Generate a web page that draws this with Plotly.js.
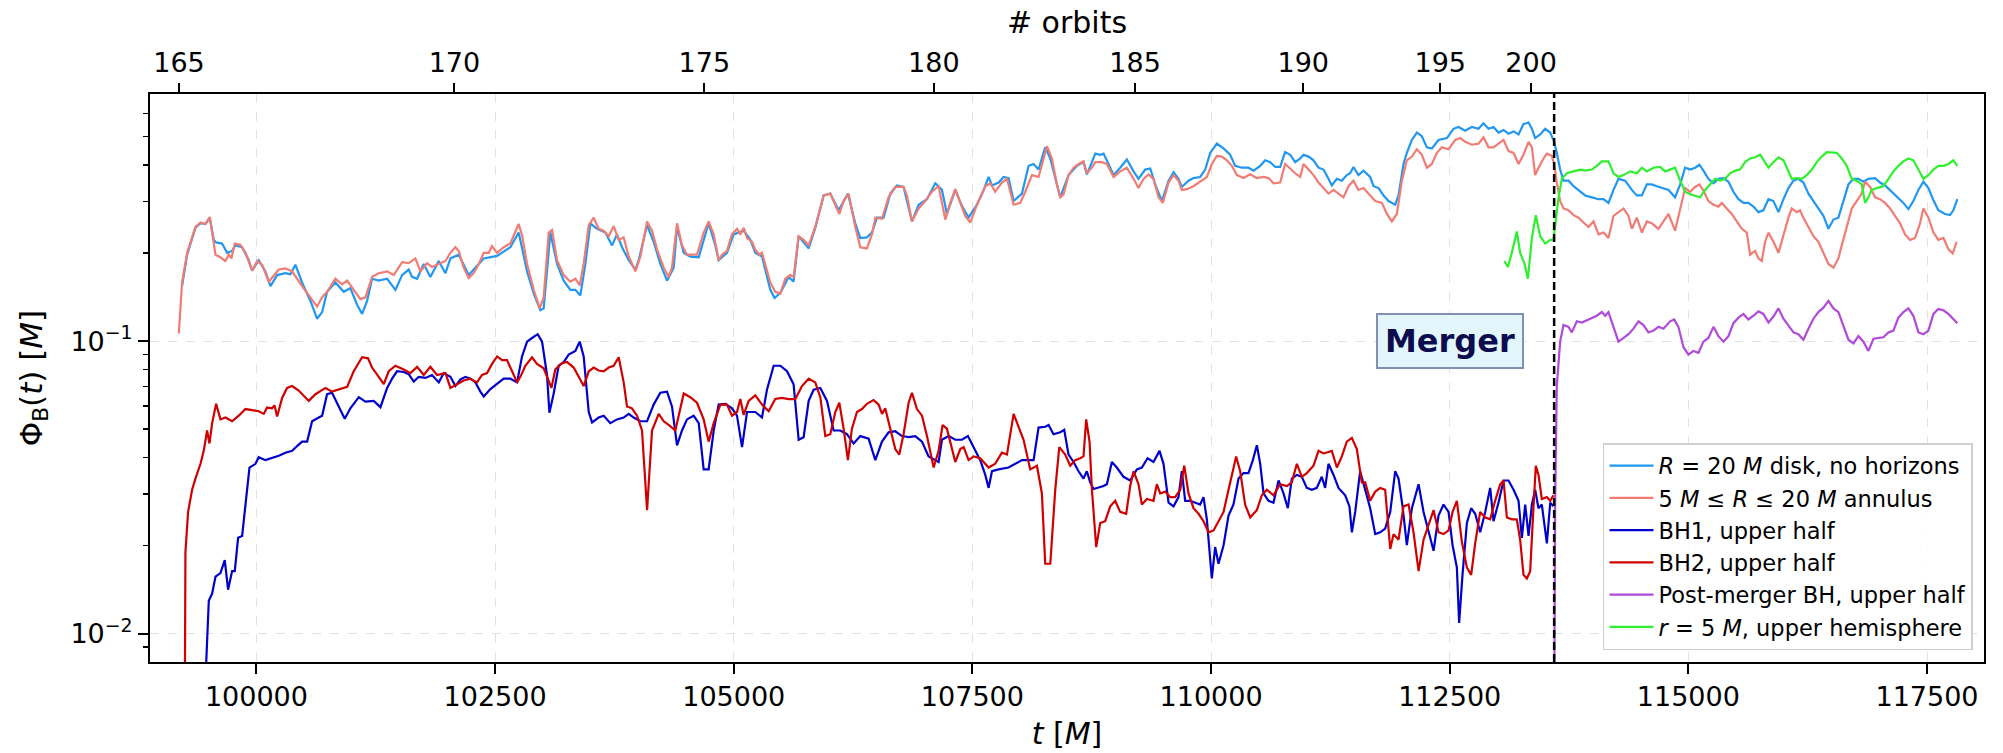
<!DOCTYPE html>
<html>
<head>
<meta charset="utf-8">
<script src="https://cdn.plot.ly/plotly-3.0.1.min.js"></script>
<style>html,body{margin:0;padding:0;background:#fff;}#chart{width:2003px;height:753px;}</style>
</head>
<body>
<div id="chart"></div>
<script>
// ---- data: [t (M), Phi_B (M)] ----
const diskNoHorizons = [[99221,0.1541],[99274,0.1975],[99361,0.2442],[99414,0.2529],[99466,0.2514],[99511,0.2643],[99553,0.2219],[99578,0.2175],[99640,0.2156],[99693,0.2004],[99745,0.2034],[99780,0.2125],[99850,0.2094],[99920,0.1890],[99955,0.1742],[100024,0.1890],[100094,0.1732],[100147,0.1541],[100216,0.1682],[100304,0.1707],[100356,0.1692],[100408,0.1825],[100478,0.1587],[100566,0.1372],[100635,0.1193],[100688,0.1257],[100740,0.1475],[100827,0.1587],[100915,0.1475],[100984,0.1519],[101054,0.1332],[101107,0.1239],[101159,0.1372],[101211,0.1634],[101281,0.1610],[101369,0.1634],[101456,0.1497],[101526,0.1682],[101595,0.1757],[101630,0.1658],[101683,0.1634],[101752,0.1836],[101822,0.1658],[101910,0.1879],[101980,0.1707],
[102032,0.1918],[102119,0.1975],[102224,0.1682],[102329,0.1836],[102381,0.1918],[102521,0.1957],[102660,0.2094],[102747,0.2351],[102835,0.1732],[102905,0.1454],[102974,0.1275],[103009,0.1294],[103079,0.2351],[103149,0.1836],[103219,0.1610],[103288,0.1497],[103341,0.1497],[103393,0.1433],[103446,0.1836],[103498,0.2529],[103568,0.2421],[103655,0.2351],[103725,0.2125],[103777,0.2317],[103830,0.2094],[103900,0.1890],[103970,0.1757],[104004,0.1890],[104092,0.2493],[104161,0.2187],[104231,0.1836],[104301,0.1610],[104371,0.1783],[104406,0.2457],[104475,0.2004],[104545,0.1946],[104633,0.1935],[104737,0.2529],[104807,0.2125],[104842,0.1890],[104929,0.2004],[104999,0.2317],[105052,0.2351],[105104,0.2386],[105174,0.2219],
[105226,0.2004],[105296,0.1946],[105383,0.1497],[105428,0.1404],[105488,0.1462],[105575,0.1658],[105627,0.1596],[105680,0.2284],[105785,0.2075],[105854,0.2440],[105942,0.3148],[106011,0.3194],[106099,0.2801],[106196,0.3194],[106273,0.2529],[106326,0.2252],[106395,0.2264],[106448,0.2351],[106500,0.2643],[106570,0.2643],[106640,0.3194],[106710,0.3406],[106779,0.3366],[106867,0.2566],[106937,0.2927],[107024,0.3057],[107111,0.3466],[107181,0.3289],[107233,0.2721],[107321,0.3289],[107390,0.2900],[107460,0.2643],[107548,0.2927],[107620,0.3300],[107670,0.3642],[107705,0.3406],[107775,0.3486],[107827,0.3642],[107879,0.3610],[107932,0.3013],[108019,0.3194],[108089,0.3975],[108141,0.4033],[108193,0.3860],[108263,0.4598],[108316,0.4213],[108385,0.3435],
[108420,0.3102],[108507,0.3695],[108595,0.3975],[108664,0.4093],[108699,0.3717],[108752,0.4093],[108787,0.4376],[108839,0.4338],[108874,0.4376],[108926,0.4033],[108979,0.3695],[109048,0.3917],[109118,0.4177],[109188,0.3805],[109240,0.3589],[109310,0.3860],[109363,0.3894],[109415,0.3435],[109485,0.3013],[109555,0.3537],[109607,0.3783],[109659,0.3589],[109694,0.3366],[109764,0.3537],[109816,0.3610],[109886,0.3642],[109939,0.3860],[109991,0.4402],[110061,0.4735],[110131,0.4558],[110200,0.4338],[110253,0.3975],[110323,0.3917],[110392,0.3917],[110445,0.3827],[110515,0.3975],[110567,0.4152],[110619,0.4093],[110672,0.3940],[110724,0.3940],[110776,0.4428],[110829,0.4338],[110881,0.4093],[110934,0.4213],[110968,0.4338],[111021,0.4275],[111073,0.4152],[111126,0.3917],[111178,0.3860],[111230,0.3589],[111265,0.3406],[111318,0.3589],[111370,0.3537],[111422,0.3695],[111457,0.3749],[111492,0.3940],[111544,0.3695],[111597,0.3827],
[111667,0.3642],[111702,0.3386],[111755,0.3337],[111807,0.3148],[111859,0.3013],[111929,0.2927],[111964,0.3148],[112016,0.4033],[112051,0.4402],[112104,0.4874],[112156,0.5167],[112208,0.5019],[112261,0.4598],[112313,0.4558],[112383,0.4874],[112470,0.4946],[112540,0.5320],[112592,0.5398],[112662,0.5243],[112732,0.5398],[112802,0.5320],[112854,0.5557],[112907,0.5320],[112959,0.5398],[113011,0.5167],[113064,0.5273],[113116,0.5122],[113169,0.5212],[113221,0.5092],[113273,0.5525],[113326,0.5589],[113361,0.5320],[113395,0.4946],[113448,0.5092],[113500,0.5320],[113553,0.5167],[113594,0.4804],[113622,0.4402],[113657,0.3860],[113692,0.3537],[113745,0.3537],[113797,0.3386],[113849,0.3289],[113919,0.3148],[113989,0.3102],[114059,0.3057],[114111,0.3057],[114163,0.2969],[114216,0.3289],[114268,0.3589],[114338,0.3537],[114408,0.3289],[114460,0.3148],[114513,0.3148],[114565,0.3435],[114617,0.3435],[114670,0.3386],[114739,0.3337],[114792,0.3289],
[114861,0.3102],[114914,0.3435],[114966,0.3917],[115018,0.3860],[115071,0.3917],[115116,0.4010],[115158,0.3827],[115210,0.3589],[115263,0.3466],[115315,0.3589],[115368,0.3610],[115420,0.3507],[115472,0.3241],[115525,0.3057],[115577,0.2969],[115629,0.2969],[115682,0.2884],[115734,0.2761],[115786,0.2801],[115839,0.3057],[115891,0.3013],[115944,0.2761],[115996,0.3057],[116048,0.3337],[116101,0.3537],[116153,0.3589],[116205,0.3486],[116258,0.3194],[116310,0.3013],[116362,0.2842],[116415,0.2681],[116467,0.2421],[116520,0.2604],[116572,0.2643],[116624,0.3013],[116677,0.3435],[116729,0.3589],[116781,0.3589],[116834,0.3507],[116886,0.3589],[116956,0.3610],[117008,0.3486],[117061,0.3406],[117130,0.3241],[117183,0.3102],[117253,0.2969],[117305,0.2826],[117357,0.3013],[117410,0.3289],[117462,0.3507],[117515,0.3337],[117567,0.3031],[117619,0.2801],[117689,0.2721],[117741,0.2697],[117776,0.2801],[117818,0.3057]];

const annulus = [[99187,0.1062],[99221,0.1587],[99274,0.2004],[99361,0.2457],[99414,0.2544],[99466,0.2514],[99511,0.2658],[99571,0.1975],[99623,0.1935],[99675,0.1879],[99710,0.1975],[99738,0.1918],[99773,0.2156],[99832,0.2137],[99885,0.2004],[99955,0.1742],[100007,0.1879],[100059,0.1825],[100129,0.1596],[100182,0.1682],[100234,0.1757],[100304,0.1773],[100374,0.1732],[100478,0.1541],[100566,0.1412],[100635,0.1313],[100688,0.1412],[100740,0.1475],[100827,0.1634],[100897,0.1564],[100950,0.1610],[101019,0.1497],[101089,0.1392],[101142,0.1412],[101211,0.1658],[101281,0.1707],[101369,0.1732],[101438,0.1682],[101526,0.1863],[101595,0.1847],[101665,0.1918],[101718,0.1732],[101787,0.1847],[101840,0.1793],[101910,0.1836],[101980,0.1879],
[102032,0.2004],[102084,0.2094],[102119,0.2034],[102171,0.1783],[102224,0.1643],[102276,0.1707],[102329,0.1836],[102381,0.2004],[102433,0.2004],[102468,0.2112],[102521,0.2004],[102590,0.2094],[102660,0.2156],[102713,0.2386],[102747,0.2514],[102782,0.2304],[102835,0.1836],[102905,0.1497],[102967,0.1294],[103009,0.1412],[103062,0.2351],[103097,0.2400],[103149,0.1890],[103219,0.1682],[103288,0.1596],[103341,0.1634],[103386,0.1550],[103428,0.1836],[103481,0.2493],[103533,0.2643],[103585,0.2421],[103638,0.2386],[103690,0.2284],[103742,0.2471],[103795,0.2219],[103847,0.2264],[103900,0.1946],[103970,0.1732],[104022,0.1946],[104092,0.2566],[104144,0.2386],[104196,0.2064],[104266,0.1783],[104318,0.1658],[104353,0.1783],[104406,0.2529],[104458,0.2125],[104510,0.1975],[104615,0.1975],[104685,0.2351],[104737,0.2566],[104790,0.2317],[104842,0.1890],[104877,0.1975],[104929,0.2034],[104981,0.2317],[105034,0.2421],[105069,0.2317],[105104,0.2442],[105139,0.2252],[105191,0.2187],
[105226,0.2052],[105268,0.1975],[105296,0.2004],[105331,0.1836],[105383,0.1587],[105435,0.1475],[105488,0.1454],[105540,0.1634],[105593,0.1682],[105627,0.1658],[105680,0.2284],[105732,0.2219],[105785,0.2125],[105854,0.2457],[105942,0.3148],[106011,0.3194],[106064,0.2927],[106106,0.2721],[106151,0.3013],[106203,0.3194],[106273,0.2457],[106326,0.2094],[106395,0.2075],[106448,0.2317],[106483,0.2643],[106553,0.2620],[106622,0.3102],[106692,0.3366],[106779,0.3366],[106814,0.3148],[106867,0.2566],[106937,0.2842],[107006,0.3013],[107076,0.3241],[107146,0.3386],[107216,0.2604],[107268,0.2969],[107321,0.3308],[107373,0.2969],[107425,0.2681],[107478,0.2544],[107548,0.2927],[107635,0.3386],[107687,0.3466],[107739,0.3241],[107809,0.3486],[107862,0.3589],[107932,0.2927],[108001,0.2969],[108054,0.3241],[108124,0.3695],[108193,0.3642],[108246,0.4213],[108281,0.4639],[108333,0.4213],[108385,0.3435],
[108420,0.3102],[108455,0.3176],[108507,0.3695],[108560,0.3917],[108612,0.4033],[108664,0.4116],[108699,0.3749],[108752,0.3917],[108787,0.4093],[108856,0.4093],[108909,0.4033],[108979,0.3642],[109048,0.3805],[109118,0.3917],[109188,0.3589],[109240,0.3337],[109293,0.3589],[109345,0.3717],[109397,0.3589],[109450,0.3102],[109495,0.2969],[109555,0.3486],[109607,0.3695],[109659,0.3537],[109694,0.3289],[109747,0.3308],[109816,0.3386],[109886,0.3507],[109956,0.3642],[110008,0.4033],[110061,0.4300],[110113,0.4275],[110166,0.4152],[110218,0.3975],[110270,0.3695],[110340,0.3610],[110410,0.3717],[110480,0.3610],[110550,0.3642],[110602,0.3610],[110654,0.3466],[110724,0.3486],[110776,0.4033],[110829,0.3894],[110881,0.3749],[110934,0.3642],[110968,0.4033],[111021,0.3860],[111073,0.3695],[111126,0.3486],[111178,0.3337],[111230,0.3194],[111283,0.3289],[111335,0.3194],[111387,0.3102],[111440,0.3386],[111492,0.3537],[111544,0.3289],[111597,0.3337],
[111667,0.3148],[111720,0.3013],[111790,0.2969],[111842,0.2721],[111894,0.2566],[111947,0.2721],[111999,0.3537],[112051,0.4152],[112104,0.4275],[112156,0.4532],[112208,0.4338],[112261,0.3917],[112313,0.4033],[112366,0.4402],[112418,0.4598],[112488,0.4532],[112558,0.4874],[112610,0.4946],[112662,0.4804],[112732,0.4694],[112802,0.4735],[112854,0.4975],[112907,0.4598],[112959,0.4598],[113011,0.4735],[113064,0.4874],[113116,0.4466],[113169,0.4402],[113221,0.4033],[113273,0.4338],[113326,0.4804],[113361,0.4598],[113395,0.3695],[113430,0.3917],[113483,0.4213],[113518,0.4376],[113570,0.4300],[113594,0.4033],[113622,0.3486],[113657,0.3013],[113692,0.2842],[113745,0.2801],[113797,0.2697],[113849,0.2643],[113902,0.2544],[113954,0.2457],[114006,0.2566],[114059,0.2317],[114111,0.2351],[114163,0.2252],[114216,0.2681],[114268,0.2761],[114321,0.2842],[114373,0.2681],[114408,0.2421],[114460,0.2643],[114513,0.2351],[114565,0.2566],[114617,0.2529],[114687,0.2421],[114739,0.2566],[114792,0.2721],
[114861,0.2386],[114914,0.2842],[114966,0.3337],[115018,0.3241],[115071,0.3366],[115116,0.3435],[115158,0.3270],[115210,0.3013],[115263,0.2927],[115315,0.2884],[115350,0.2969],[115402,0.2842],[115455,0.2721],[115507,0.2566],[115560,0.2421],[115612,0.2351],[115647,0.1975],[115699,0.2034],[115734,0.1918],[115769,0.1879],[115804,0.2187],[115839,0.2351],[115891,0.2187],[115944,0.2004],[115996,0.2317],[116048,0.2643],[116083,0.2842],[116136,0.2761],[116170,0.2801],[116205,0.2643],[116258,0.2457],[116310,0.2284],[116362,0.2187],[116415,0.2004],[116467,0.1836],[116520,0.1783],[116572,0.1918],[116607,0.2125],[116659,0.2457],[116712,0.2842],[116764,0.3013],[116816,0.3194],[116851,0.3507],[116904,0.3366],[116956,0.3102],[117008,0.3057],[117061,0.2969],[117113,0.2842],[117165,0.2681],[117218,0.2529],[117270,0.2317],[117323,0.2219],[117375,0.2252],[117427,0.2529],[117462,0.2842],[117515,0.2643],[117567,0.2351],[117619,0.2219],[117672,0.2252],[117724,0.2064],[117769,0.1993],[117811,0.2187]];

const bh1Upper = [[99448,0.005],[99501,0.01295],[99536,0.01372],[99571,0.01565],[99623,0.01611],[99668,0.01784],[99703,0.01413],[99745,0.01635],[99773,0.01635],[99808,0.02125],[99850,0.02156],[99885,0.02762],[99927,0.03696],[99990,0.03806],[100024,0.04011],[100094,0.03918],[100164,0.03976],[100234,0.04058],[100304,0.04154],[100374,0.04214],[100426,0.04377],[100478,0.04533],[100531,0.04533],[100583,0.05321],[100653,0.05478],[100688,0.05559],[100740,0.06583],[100792,0.06660],[100862,0.05979],[100925,0.05431],[100984,0.05893],[101072,0.06432],[101142,0.06210],[101229,0.06246],[101299,0.05945],[101369,0.06917],[101421,0.07440],[101473,0.07887],[101543,0.07841],[101595,0.07705],[101648,0.07268],[101700,0.07549],[101770,0.07483],[101840,0.07660],[101910,0.07226],[101962,0.07772],
[102032,0.07549],[102084,0.07019],[102137,0.07397],[102189,0.07549],[102241,0.07440],[102294,0.07226],[102346,0.06719],[102381,0.06469],[102451,0.06857],[102521,0.07122],[102590,0.07440],[102660,0.07440],[102730,0.07226],[102782,0.08860],[102835,0.09960],[102887,0.1025],[102946,0.1056],[102992,0.09960],[103044,0.07660],[103069,0.05690],[103114,0.06622],[103166,0.08238],[103219,0.08481],[103271,0.08990],[103341,0.09256],[103386,0.09960],[103428,0.08860],[103481,0.05724],[103516,0.05275],[103585,0.05478],[103638,0.05559],[103707,0.05244],[103777,0.05399],[103847,0.05478],[103900,0.05640],[103952,0.05478],[104022,0.05321],[104092,0.05321],[104161,0.06067],[104231,0.06660],[104301,0.06719],[104353,0.05979],[104406,0.04403],[104458,0.04947],[104510,0.05399],[104580,0.05559],[104633,0.05244],[104685,0.03643],[104737,0.03643],[104790,0.04947],[104842,0.06067],[104912,0.06103],[104982,0.05893],[105034,0.05559],[105087,0.04339],[105139,0.05724],
[105226,0.05724],[105296,0.05478],[105348,0.06819],[105418,0.08238],[105488,0.08238],[105558,0.07887],[105627,0.07122],[105680,0.04600],[105732,0.04694],[105785,0.06246],[105837,0.06819],[105907,0.06917],[105977,0.06246],[106046,0.04947],[106116,0.04947],[106186,0.04805],[106256,0.04467],[106326,0.04735],[106413,0.04640],[106483,0.03918],[106553,0.04533],[106622,0.04876],[106692,0.04918],[106762,0.04735],[106832,0.04694],[106902,0.04735],[106972,0.04533],[107041,0.04034],[107111,0.03918],[107146,0.03861],[107181,0.04600],[107251,0.04735],[107321,0.04600],[107390,0.04600],[107453,0.04735],[107513,0.04339],[107582,0.03918],[107635,0.03487],[107670,0.03149],[107705,0.03590],[107774,0.03643],[107879,0.03696],[107949,0.03806],[108019,0.03918],[108089,0.03918],[108141,0.03918],[108193,0.05064],[108263,0.05094],[108298,0.05168],[108350,0.04805],
[108420,0.04876],[108462,0.04976],[108507,0.04093],[108560,0.03861],[108612,0.03590],[108664,0.03387],[108699,0.03590],[108734,0.03290],[108769,0.03121],[108821,0.03149],[108874,0.03195],[108909,0.03242],[108961,0.03861],[109013,0.03696],[109083,0.03436],[109153,0.03338],[109223,0.03643],[109275,0.03696],[109335,0.03976],[109397,0.03861],[109460,0.04214],[109502,0.03806],[109555,0.02803],[109607,0.02722],[109659,0.02928],[109694,0.03590],[109729,0.02844],[109782,0.02844],[109834,0.02803],[109886,0.02762],[109921,0.02928],[109956,0.02458],[110008,0.01543],[110043,0.01976],[110078,0.01733],[110131,0.02005],[110183,0.02531],[110235,0.02762],[110288,0.03387],[110340,0.03538],[110392,0.03538],[110438,0.03918],[110480,0.04403],[110515,0.03806],[110550,0.03014],[110602,0.02844],[110654,0.02803],[110707,0.03338],[110759,0.03014],[110804,0.02683],[110846,0.03387],[110899,0.03487],[110951,0.03436],[111003,0.03149],[111056,0.03104],[111108,0.03149],[111160,0.03436],[111195,0.03149],[111230,0.03806],[111283,0.03487],[111335,0.03149],[111405,0.02971],[111450,0.02722],[111475,0.02220],[111510,0.02606],[111562,0.03590],[111604,0.03195],
[111667,0.02683],[111720,0.02188],[111772,0.02220],[111824,0.02286],[111877,0.02606],[111929,0.03590],[111964,0.03387],[112006,0.02722],[112051,0.02005],[112104,0.02683],[112174,0.03242],[112226,0.02606],[112278,0.02252],[112331,0.01919],[112383,0.02531],[112435,0.02762],[112488,0.02606],[112530,0.02005],[112575,0.01683],[112599,0.01087],[112634,0.01588],[112680,0.02388],[112725,0.02683],[112767,0.02568],[112819,0.02220],[112872,0.02606],[112924,0.03149],[112959,0.02423],[113011,0.02803],[113064,0.03338],[113116,0.03338],[113169,0.03104],[113221,0.02844],[113256,0.02125],[113291,0.02762],[113326,0.02156],[113361,0.02762],[113395,0.03104],[113430,0.02683],[113465,0.02762],[113518,0.02034],[113553,0.02803],[113587,0.02722]];

const bh2Upper = [[99249,0.005],[99256,0.01891],[99284,0.02606],[99326,0.03104],[99361,0.03387],[99414,0.03806],[99448,0.04214],[99483,0.04947],[99508,0.04467],[99536,0.05244],[99578,0.06103],[99623,0.05399],[99675,0.05478],[99745,0.05321],[99815,0.05559],[99885,0.05858],[99955,0.05807],[100024,0.05757],[100077,0.05640],[100112,0.05927],[100164,0.05893],[100189,0.06032],[100217,0.05527],[100269,0.06394],[100321,0.06917],[100374,0.07019],[100443,0.06778],[100548,0.06246],[100618,0.06583],[100723,0.06917],[100792,0.06719],[100880,0.06857],[100950,0.06978],[101019,0.07887],[101107,0.08809],[101169,0.08732],[101211,0.08120],[101281,0.07549],[101334,0.07122],[101386,0.07887],[101456,0.08238],[101543,0.08002],[101613,0.07772],[101683,0.08166],[101752,0.07660],[101822,0.08166],[101892,0.07660],[101980,0.07772],
[102032,0.06917],[102102,0.07122],[102171,0.07332],[102241,0.07440],[102311,0.07226],[102363,0.07660],[102416,0.07772],[102468,0.08358],[102521,0.08860],[102573,0.08606],[102625,0.08606],[102678,0.07887],[102730,0.07226],[102765,0.07549],[102817,0.08238],[102887,0.08809],[102939,0.08358],[103009,0.08073],[103062,0.07226],[103090,0.06917],[103131,0.08002],[103201,0.08407],[103254,0.08481],[103323,0.08120],[103376,0.07549],[103428,0.07019],[103481,0.07887],[103533,0.08120],[103585,0.07932],[103638,0.07887],[103690,0.08120],[103742,0.08238],[103795,0.08809],[103847,0.07226],[103882,0.05979],[103934,0.05893],[103987,0.05559],[104039,0.04947],[104092,0.02644],[104144,0.04947],[104214,0.05640],[104266,0.05321],[104318,0.05168],[104388,0.04947],[104441,0.05893],[104476,0.06622],[104545,0.06432],[104615,0.06156],[104685,0.05399],[104737,0.04533],[104790,0.05244],[104860,0.06067],[104929,0.06067],[104982,0.05559],[105034,0.05724],[105069,0.06338],[105104,0.05591],[105156,0.06246],
[105226,0.06526],[105296,0.06067],[105366,0.05757],[105435,0.06338],[105505,0.06394],[105575,0.06338],[105645,0.06338],[105715,0.07019],[105785,0.07440],[105854,0.07226],[105907,0.06432],[105959,0.04735],[106011,0.04805],[106064,0.05724],[106106,0.06156],[106151,0.05020],[106196,0.03918],[106238,0.05020],[106291,0.05724],[106343,0.05858],[106395,0.06103],[106465,0.06283],[106518,0.06067],[106553,0.05640],[106587,0.05893],[106640,0.04947],[106692,0.04276],[106734,0.04093],[106779,0.04805],[106832,0.06156],[106867,0.06660],[106919,0.05858],[106972,0.05559],[107024,0.04735],[107094,0.03696],[107146,0.04214],[107188,0.05168],[107233,0.05020],[107286,0.04339],[107321,0.03861],[107373,0.04276],[107408,0.04339],[107460,0.03918],[107513,0.04034],[107582,0.03976],[107670,0.03696],[107739,0.03806],[107809,0.04154],[107862,0.04093],[107932,0.05640],[107984,0.05094],[108036,0.04600],[108106,0.03643],[108176,0.03750],[108228,0.03014],[108263,0.01733],[108316,0.01733],[108368,0.03104],[108410,0.04339],
[108472,0.04093],[108525,0.03750],[108577,0.03918],[108629,0.03976],[108664,0.04034],[108692,0.05399],[108727,0.04533],[108752,0.03104],[108797,0.01976],[108839,0.02388],[108891,0.02423],[108944,0.02722],[108996,0.02844],[109048,0.02606],[109111,0.02568],[109153,0.03195],[109188,0.03590],[109240,0.03242],[109275,0.02762],[109328,0.02886],[109397,0.02844],[109432,0.03242],[109467,0.03014],[109520,0.03058],[109572,0.02928],[109624,0.02928],[109677,0.03104],[109719,0.03750],[109764,0.03014],[109816,0.02683],[109869,0.02568],[109921,0.02423],[109974,0.02220],[110026,0.02252],[110078,0.02423],[110131,0.02606],[110183,0.03104],[110235,0.03750],[110263,0.04034],[110305,0.03590],[110357,0.02762],[110410,0.02494],[110480,0.02644],[110532,0.02971],[110584,0.03104],[110654,0.02971],[110724,0.03242],[110794,0.03195],[110846,0.03290],[110899,0.03806],[110951,0.03436],[111003,0.03538],[111073,0.03750],[111126,0.04214],[111178,0.04130],[111230,0.04178],[111265,0.04214],[111318,0.03696],[111370,0.04034],[111422,0.04533],[111475,0.04667],[111527,0.04276],[111579,0.03290],
[111615,0.03290],[111667,0.02844],[111720,0.03058],[111772,0.03149],[111824,0.03104],[111877,0.01947],[111912,0.02188],[111964,0.02094],[112016,0.02722],[112069,0.02762],[112121,0.02220],[112174,0.01635],[112226,0.02094],[112278,0.02353],[112331,0.02644],[112383,0.02220],[112435,0.02188],[112488,0.02252],[112530,0.02606],[112575,0.02844],[112627,0.02064],[112680,0.01683],[112725,0.01588],[112767,0.02034],[112819,0.02606],[112872,0.02494],[112924,0.02458],[112976,0.02844],[113029,0.03242],[113064,0.03338],[113099,0.02494],[113151,0.02458],[113203,0.02458],[113238,0.02094],[113273,0.01588],[113308,0.01543],[113343,0.01635],[113371,0.02458],[113402,0.03750],[113430,0.03487],[113465,0.02886],[113518,0.02928],[113553,0.02844],[113587,0.02971]];

const postMergerBH = [[113594,0.005],[113605,0.02928],[113622,0.07019],[113657,0.09960],[113692,0.1135],[113745,0.1119],[113779,0.1071],[113832,0.1169],[113884,0.1158],[113937,0.1179],[113989,0.1203],[114041,0.1221],[114094,0.1257],[114129,0.1221],[114163,0.1257],[114216,0.1119],[114268,0.09960],[114321,0.1025],[114373,0.1056],[114425,0.1103],[114478,0.1169],[114530,0.1135],[114582,0.1071],[114635,0.1087],[114687,0.1119],[114739,0.1103],[114809,0.1169],[114851,0.1186],[114896,0.1119],[114949,0.09534],[115001,0.08990],[115053,0.09256],[115106,0.09122],[115158,0.09960],[115210,0.1025],[115263,0.1119],[115315,0.1040],[115368,0.09960],[115420,0.1040],[115472,0.1152],[115525,0.1203],[115577,0.1239],[115629,0.1186],[115682,0.1221],[115734,0.1264],[115786,0.1239],[115839,0.1158],[115891,0.1214],[115944,0.1294],[115996,0.1193],[116048,0.1125],[116101,0.1071],[116153,0.1056],[116205,0.1011],[116258,0.1103],[116310,0.1193],[116362,0.1257],[116415,0.1301],[116467,0.1372],[116520,0.1294],[116572,0.1257],[116624,0.1135],[116677,0.1011],[116729,0.09816],[116781,0.1040],[116834,0.09960],[116886,0.09256],[116939,0.1019],[116991,0.1025],[117043,0.1031],[117096,0.1071],[117148,0.1087],[117200,0.1203],[117253,0.1257],[117305,0.1294],[117357,0.1221],[117410,0.1071],[117462,0.1056],[117515,0.1087],[117567,0.1239],[117619,0.1287],[117672,0.1275],[117724,0.1239],[117776,0.1186],[117818,0.1152]];

const sphereR5 = [[113074,0.1879],[113109,0.1793],[113151,0.2004],[113203,0.2372],[113238,0.2004],[113284,0.1836],[113319,0.1634],[113361,0.2252],[113402,0.2697],[113448,0.2284],[113500,0.2156],[113553,0.2219],[113587,0.2219],[113605,0.2457],[113640,0.3102],[113675,0.3589],[113727,0.3749],[113797,0.3805],[113867,0.3860],[113919,0.3827],[113989,0.3860],[114041,0.3975],[114094,0.4116],[114163,0.4116],[114216,0.3749],[114268,0.3642],[114321,0.3695],[114390,0.3805],[114460,0.3749],[114513,0.3917],[114565,0.3805],[114635,0.3917],[114705,0.3940],[114757,0.3805],[114809,0.3860],[114861,0.3917],[114914,0.3537],[114966,0.3241],[115018,0.3176],[115071,0.3148],[115123,0.3102],[115176,0.3289],[115228,0.3435],[115280,0.3589],[115333,0.3537],[115385,0.3589],[115437,0.3749],[115490,0.3827],[115542,0.3860],[115594,0.4093],[115647,0.4213],[115699,0.4251],[115752,0.4338],[115804,0.4093],[115839,0.3917],[115891,0.4093],[115944,0.4251],[115996,0.4152],[116048,0.3805],[116083,0.3589],[116136,0.3610],[116188,0.3589],[116240,0.3695],[116293,0.3860],[116345,0.4093],[116397,0.4275],[116450,0.4428],[116502,0.4428],[116555,0.4402],[116607,0.4213],[116659,0.3975],[116712,0.3589],[116764,0.3537],[116816,0.3435],[116851,0.2969],[116886,0.3102],[116921,0.3289],[116973,0.3337],[117043,0.3386],[117096,0.3589],[117148,0.3805],[117200,0.3975],[117253,0.4116],[117305,0.4213],[117357,0.4152],[117410,0.3860],[117462,0.3589],[117515,0.3695],[117567,0.3860],[117619,0.3975],[117672,0.3975],[117724,0.4033],[117776,0.4152],[117818,0.3975]];

const seriesNames = ['<i>R</i> = 20 <i>M</i> disk, no horizons', '5 <i>M</i> ≤ <i>R</i> ≤ 20 <i>M</i> annulus', 'BH1, upper half', 'BH2, upper half', 'Post-merger BH, upper half', '<i>r</i> = 5 <i>M</i>, upper hemisphere'];
const seriesColors = ['#2197f0', '#f07c74', '#0000cd', '#d00000', '#b04ad8', '#2ef02e'];

const tTicks = [100000, 102500, 105000, 107500, 110000, 112500, 115000, 117500];
const orbitLabels = ['165', '170', '175', '180', '185', '190', '195', '200'];
const orbitTimes = [99189, 102074, 104692, 107096, 109204, 110966, 112401, 113352];
const mergerTime = 113594;
const phiMajorTicks = [0.01, 0.1];
const phiMajorText = ['10<sup>−2</sup>', '10<sup>−1</sup>'];
const phiMinorTicks = [0.009, 0.02, 0.03, 0.04, 0.05, 0.06, 0.07, 0.08, 0.09, 0.2, 0.3, 0.4, 0.5, 0.6];

// ---- build traces ----
const allSeries = [diskNoHorizons, annulus, bh1Upper, bh2Upper, postMergerBH, sphereR5];
const traces = allSeries.map((s, i) => ({
  type: 'scatter', mode: 'lines',
  x: s.map(p => p[0]), y: s.map(p => p[1]),
  name: seriesNames[i],
  line: {color: seriesColors[i], width: 2.2},
  hoverinfo: 'skip'
}));
// carrier for the top (# orbits) axis
traces.push({type:'scatter', mode:'lines', x: orbitTimes, y: orbitTimes.map(() => null), xaxis:'x2', yaxis:'y', showlegend:false, hoverinfo:'skip'});

const xRange = [98885, 118097];
const layout = {
  width: 2003, height: 753,
  margin: {l: 150, r: 19, t: 94, b: 91, pad: 0},
  paper_bgcolor: '#ffffff', plot_bgcolor: '#ffffff',
  font: {family: 'DejaVu Sans, sans-serif', size: 27, color: '#000'},
  showlegend: true,
  xaxis: {
    range: xRange, tickmode: 'array', tickvals: tTicks, ticktext: tTicks.map(String),
    ticks: 'outside', ticklen: 10, tickwidth: 2, tickcolor: '#000',
    showline: true, linewidth: 2, linecolor: '#000', mirror: true,
    showgrid: true, gridcolor: '#e2e2e2', griddash: 'dash', gridwidth: 1,
    zeroline: false, tickfont: {size: 27},
    title: {text: '<i>t</i> [<i>M</i>]', font: {size: 30}, standoff: 12}
  },
  xaxis2: {
    overlaying: 'x', side: 'top', anchor: 'y', range: xRange,
    tickmode: 'array', tickvals: orbitTimes, ticktext: orbitLabels,
    ticks: 'outside', ticklen: 10, tickwidth: 2, tickcolor: '#000',
    showline: false, showgrid: false, zeroline: false, tickfont: {size: 27},
    title: {text: '# orbits', font: {size: 30}, standoff: 4}
  },
  yaxis: {
    type: 'log', range: [-2.0972, -0.155],
    tickmode: 'array', tickvals: phiMajorTicks, ticktext: phiMajorText,
    ticks: 'outside', ticklen: 10, tickwidth: 2, tickcolor: '#000',
    showline: true, linewidth: 2, linecolor: '#000', mirror: true,
    showgrid: true, gridcolor: '#e2e2e2', griddash: 'dash', gridwidth: 1,
    zeroline: false, tickfont: {size: 27},
    minor: {tickmode: 'array', tickvals: phiMinorTicks, ticks: 'outside', ticklen: 5, tickwidth: 1.5, tickcolor: '#000', showgrid: false},
    title: {text: 'Φ<sub>B</sub>(<i>t</i>) [<i>M</i>]', font: {size: 31}, standoff: 19}
  },
  legend: {
    x: 0.994, xanchor: 'right', y: 0.021, yanchor: 'bottom',
    bgcolor: 'rgba(255,255,255,0.9)', bordercolor: '#cfcfcf', borderwidth: 1.5,
    font: {size: 22.5}, tracegroupgap: 0, itemwidth: 44
  },
  shapes: [{
    type: 'line', xref: 'x', yref: 'paper', x0: mergerTime, x1: mergerTime, y0: 0, y1: 1,
    line: {color: '#000', width: 2.5, dash: '8px,4px'}, layer: 'above'
  }],
  annotations: [{
    x: 112500, y: -1, xref: 'x', yref: 'y', text: '<b>Merger</b>', showarrow: false,
    font: {size: 32, color: '#0c0c4e', family: 'DejaVu Sans, sans-serif'},
    bgcolor: '#e2f6fb', bordercolor: '#8290b6', borderwidth: 2, borderpad: 7
  }]
};

Plotly.newPlot('chart', traces, layout, {displayModeBar: false, staticPlot: true});
</script>
</body>
</html>
